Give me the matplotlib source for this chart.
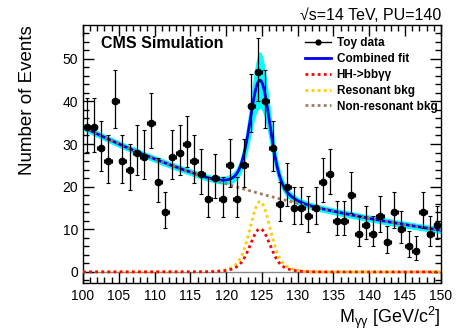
import numpy as np
import matplotlib
matplotlib.use("Agg")
import matplotlib.pyplot as plt
from matplotlib.lines import Line2D
from matplotlib.ticker import MultipleLocator

plt.rcParams['font.family'] = ['Liberation Sans', 'DejaVu Sans']
plt.rcParams['mathtext.fontset'] = 'custom'
plt.rcParams['mathtext.rm'] = 'Liberation Sans'
plt.rcParams['mathtext.it'] = 'Liberation Sans'

# toy data, 1 GeV bins from 100 to 150
bin_centers = np.arange(100.5, 150.0, 1.0)
counts = [34, 34, 29, 26, 40, 26, 24, 28, 27, 35,
          21, 14, 27, 28, 30, 26, 23, 17, 22, 17,
          25, 17, 25, 39, 47, 40, 29, 16, 20, 15,
          15, 13, 15, 21, 23, 12, 12, 18, 9, 11,
          9, 13, 7, 14, 10, 6, 5, 14, 9, 11]

# fit parameters
bkg_at_100 = 34.0
bkg_slope = 0.0249
peak_mass = 124.75
hh_peak = 10.1
res_peak = 16.5
core_sigma, wide_sigma, core_frac = 1.3, 2.5, 0.8
band_base, band_sig = 0.8, 0.22

n = np.array(counts, dtype=float)
err_lo = np.sqrt(np.clip(n - 0.25, 0, None))
err_hi = np.sqrt(n + 0.75) + 1.0

m = np.linspace(100, 150, 1001)
bkg = bkg_at_100 * np.exp(-bkg_slope * (m - 100))
shape = core_frac * np.exp(-0.5 * ((m - peak_mass) / core_sigma) ** 2) + \
    (1 - core_frac) * np.exp(-0.5 * ((m - peak_mass) / wide_sigma) ** 2)
hh = hh_peak * shape
res = res_peak * shape
total = bkg + hh + res
band = band_base + band_sig * (hh + res)

fig = plt.figure(figsize=(4.65, 3.34), dpi=100)
ax = fig.add_axes([0.1785, 0.1527, 0.7695, 0.7723])

ax.axhline(0, color='#888888', lw=1.0, zorder=1)
ax.fill_between(m, total - band, total + band, color='#00ffff', lw=0, zorder=2)
ax.plot(m, total, color='#0000ee', lw=2.0, zorder=3)
ax.plot(m, bkg, color='#a07860', lw=2.0, ls=(0, (1, 1.2)), zorder=4)
ax.plot(m, res, color='#ffcc00', lw=2.0, ls=(0, (1, 1.2)), zorder=4)
ax.plot(m, hh, color='#ff0000', lw=2.0, ls=(0, (1, 1.2)), zorder=4)
ax.errorbar(bin_centers, n, yerr=[err_lo, err_hi], xerr=0.5, fmt='o', color='black',
            ms=4.5, elinewidth=0.9, capsize=1.2, capthick=0.8, zorder=5)

ax.set_xlim(100, 150)
ax.set_ylim(-2.6, 57.9)
ax.xaxis.set_major_locator(MultipleLocator(5))
ax.xaxis.set_minor_locator(MultipleLocator(1))
ax.yaxis.set_major_locator(MultipleLocator(10))
ax.yaxis.set_minor_locator(MultipleLocator(2))
ax.tick_params(which='both', direction='in', top=True, right=True, labelsize=10, width=1.0)
ax.tick_params(which='major', length=8)
ax.tick_params(which='minor', length=4)
ax.tick_params(axis='x', pad=4)
for s in ax.spines.values():
    s.set_linewidth(1.0)

ax.set_ylabel('Number of Events', fontsize=13.5, loc='top')
ax.yaxis.set_label_coords(-0.13, 1.0)
ax.set_xlabel(r'M$_{\gamma\gamma}$ [GeV/c$^{2}$]', fontsize=13, loc='right')
ax.xaxis.set_label_coords(1.0, -0.085)

ax.text(0.05, 0.93, 'CMS Simulation', transform=ax.transAxes, fontsize=11.5,
        fontweight='bold', va='center', ha='left')
fig.text(0.948, 0.955, '\u221as=14 TeV, PU=140', fontsize=11.5, ha='right', va='center')

handles = [
    Line2D([], [], color='black', marker='o', ms=3.5, lw=1.0),
    Line2D([], [], color='#0000ee', lw=2.0),
    Line2D([], [], color='#ff0000', lw=2.0, ls=(0, (1, 1.2))),
    Line2D([], [], color='#ffcc00', lw=2.0, ls=(0, (1, 1.2))),
    Line2D([], [], color='#a07860', lw=2.0, ls=(0, (1, 1.2))),
]
labels = ['Toy data', 'Combined fit', 'HH->bb\u03b3\u03b3', 'Resonant bkg', 'Non-resonant bkg']
leg = ax.legend(handles, labels, loc='upper left', bbox_to_anchor=(0.59, 0.995),
                frameon=False, handlelength=2.2, handletextpad=0.5, labelspacing=0.33,
                prop={'size': 8.5, 'weight': 'bold'})

fig.savefig('out.png', dpi=100)
